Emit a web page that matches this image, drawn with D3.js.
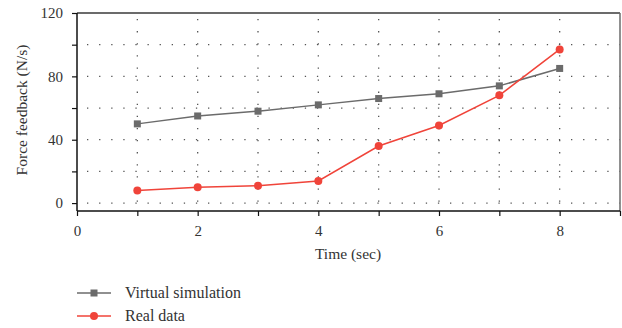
<!DOCTYPE html>
<html><head><meta charset="utf-8">
<script src="https://cdn.jsdelivr.net/npm/d3@7"></script>
<style>body{margin:0;background:#fff}svg{display:block}text{font-family:"Liberation Serif","DejaVu Serif",serif;fill:#333}</style>
</head><body><svg id="c" width="622" height="328"></svg>
<script>
const times = [1,2,3,4,5,6,7,8];
const virtualSim = [50,55,58,62,66,69,74,85];
const realData = [8,10,11,14,36,49,68,97];
const xTicks = [0,2,4,6,8];
const yTicks = [0,40,80,120];
const seriesNames = ["Virtual simulation","Real data"];

const svg = d3.select("#c");
const x = d3.scaleLinear().domain([0,9]).range([77,620]);
const y = d3.scaleLinear().domain([-5,120]).range([211,13]);
const gray = "#6b6b6b", red = "#f0443a";

// grid
const g = svg.append("g");
g.selectAll("line.h").data(d3.range(0,101,20)).join("line")
  .attr("x1",x(0)).attr("x2",x(9)).attr("y1",d=>y(d)).attr("y2",d=>y(d))
  .attr("stroke","#555").attr("stroke-width",1.3).attr("stroke-dasharray","1.3,10.8").attr("stroke-dashoffset",-10);
g.selectAll("line.v").data(d3.range(1,9)).join("line")
  .attr("x1",d=>x(d)).attr("x2",d=>x(d)).attr("y1",y(120)).attr("y2",y(-5))
  .attr("stroke","#555").attr("stroke-width",1.3).attr("stroke-dasharray","1.3,10.8").attr("stroke-dashoffset",-6);

// borders
svg.append("line").attr("x1",x(0)).attr("x2",x(9)).attr("y1",y(120)).attr("y2",y(120)).attr("stroke",gray).attr("stroke-width",2);
svg.append("line").attr("x1",x(9)).attr("x2",x(9)).attr("y1",y(120)).attr("y2",y(-5)).attr("stroke",gray).attr("stroke-width",1.5);

// axes
const xAxis = svg.append("g").attr("transform",`translate(0,${y(-5)})`)
  .call(d3.axisBottom(x).tickValues(d3.range(0,10)).tickSize(5).tickFormat(d=>xTicks.includes(d)?d:""));
const yAxis = svg.append("g").attr("transform",`translate(${x(0)},0)`)
  .call(d3.axisLeft(y).tickValues(d3.range(0,121,20)).tickSize(5).tickFormat(d=>yTicks.includes(d)?d:""));
[xAxis,yAxis].forEach(a=>{
  a.attr("font-size",15).attr("font-family","'Liberation Serif',serif");
  a.select(".domain").attr("stroke","#111").attr("stroke-width",1.5);
  a.selectAll(".tick line").attr("stroke","#111").attr("stroke-width",1.2);
  a.selectAll(".tick text").attr("font-size",15).attr("fill","#333");
});
xAxis.selectAll(".tick text").attr("dy","0.71em").attr("y",14);
yAxis.selectAll(".tick text").attr("x",-14);
yAxis.select(".domain").attr("d",`M0,${y(120)}V${y(-5)}`);
xAxis.select(".domain").attr("d",`M${x(0)},0H${x(9)}`);

// labels
svg.append("text").attr("x",348).attr("y",259).attr("text-anchor","middle").attr("font-size",15.5).text("Time (sec)");
svg.append("text").attr("transform","translate(27,110) rotate(-90)").attr("text-anchor","middle").attr("font-size",15.5).text("Force feedback (N/s)");

// series
const line = d3.line().x((d,i)=>x(times[i])).y(d=>y(d));
svg.append("path").datum(virtualSim).attr("d",line).attr("fill","none").attr("stroke",gray).attr("stroke-width",1.5);
svg.selectAll("rect.vs").data(virtualSim).join("rect")
  .attr("x",(d,i)=>x(times[i])-3.5).attr("y",d=>y(d)-3.5).attr("width",7).attr("height",7).attr("fill",gray);
svg.append("path").datum(realData).attr("d",line).attr("fill","none").attr("stroke",red).attr("stroke-width",1.5);
svg.selectAll("circle.rd").data(realData).join("circle")
  .attr("cx",(d,i)=>x(times[i])).attr("cy",d=>y(d)).attr("r",4).attr("fill",red);

// legend
const lg = svg.append("g");
const ly = [293,316];
[gray,red].forEach((c,i)=>{
  lg.append("line").attr("x1",77).attr("x2",111).attr("y1",ly[i]).attr("y2",ly[i]).attr("stroke",c).attr("stroke-width",1.5);
  if(i===0) lg.append("rect").attr("x",90.5).attr("y",ly[i]-3.5).attr("width",7).attr("height",7).attr("fill",c);
  else lg.append("circle").attr("cx",94).attr("cy",ly[i]).attr("r",4).attr("fill",c);
  lg.append("text").attr("x",125).attr("y",ly[i]+5).attr("font-size",16).text(seriesNames[i]);
});
</script></body></html>
